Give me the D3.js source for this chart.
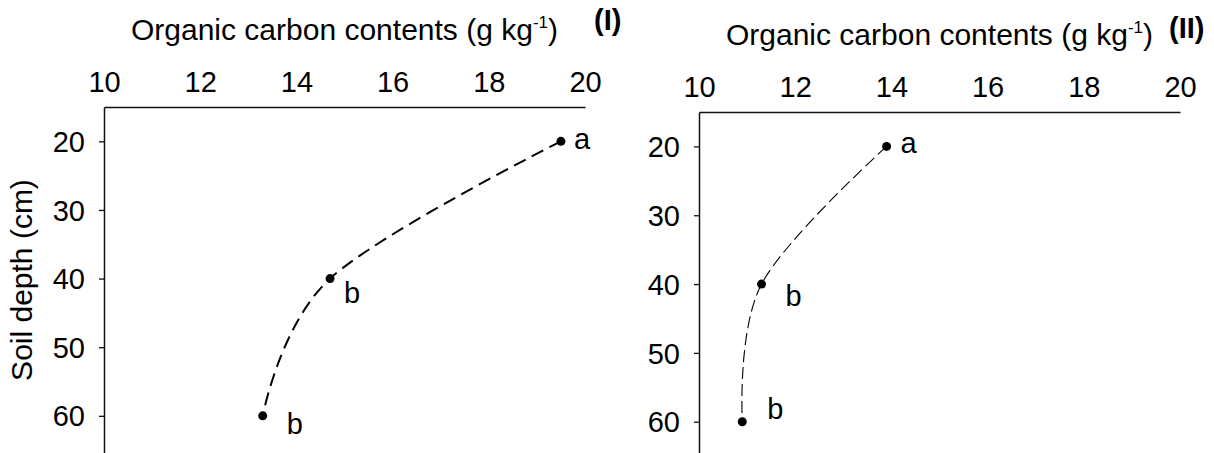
<!DOCTYPE html>
<meta charset="utf-8">
<script src="https://d3js.org/d3.v7.min.js"></script>
<style>
  body { margin: 0; background: #fff; }
  text { font-family: "Liberation Sans", Arial, sans-serif; fill: #000; }
</style>
<div id="chart"></div>
<script>

// soil depth (cm) of the three sampled layers
var depth = [20, 40, 60];
// organic carbon contents (g kg-1), panel I and panel II
var carbonI = [19.5, 14.7, 13.3];
var carbonII = [13.9, 11.3, 10.9];
// letters of significance next to each point
var lettersI = ["a", "b", "b"];
var lettersII = ["a", "b", "b"];
// tick values
var xTicks = [10, 12, 14, 16, 18, 20];
var yTicks = [20, 30, 40, 50, 60];

var width = 1214, height = 453;

var svg = d3.select("#chart")
  .append("svg")
    .attr("width", width)
    .attr("height", height);

// one object per panel, only layout and style here
var panels = [
  { name: "(I)", values: carbonI, letters: lettersI,
    x0: 104, x1: 585, y0: 107, y1: 457,
    titleY: 40, tagX: 594, tagY: 30,
    stroke: 2, dash: "13,7",
    offsets: [[13, 8], [14, 24], [24, 18]] },
  { name: "(II)", values: carbonII, letters: lettersII,
    x0: 699, x1: 1180, y0: 112, y1: 463,
    titleY: 45, tagX: 1169, tagY: 38,
    stroke: 1.1, dash: "12,5",
    offsets: [[14, 7], [24, 22], [25, -3]] }
];

panels.forEach(function(p) {

  var g = svg.append("g");

  var x = d3.scaleLinear()
    .domain([10, 20])
    .range([p.x0, p.x1]);

  var y = d3.scaleLinear()
    .domain([15, 66])
    .range([p.y0, p.y1]);

  // top axis, no tick marks
  var xAxis = g.append("g")
    .attr("transform", "translate(0," + p.y0 + ")")
    .call(d3.axisTop(x).tickValues(xTicks).tickSize(0).tickPadding(15));

  // left axis, ticks pointing out
  var yAxis = g.append("g")
    .attr("transform", "translate(" + p.x0 + ",0)")
    .call(d3.axisLeft(y).tickValues(yTicks).tickSizeInner(5).tickSizeOuter(0).tickPadding(14));

  [xAxis, yAxis].forEach(function(a) {
    a.select(".domain").attr("stroke", "#111").attr("stroke-width", 1.5);
    a.selectAll(".tick line").attr("stroke", "#111").attr("stroke-width", 1.3);
    a.selectAll(".tick text")
      .style("font-family", "'Liberation Sans', Arial, sans-serif")
      .style("font-size", "29px")
      .attr("fill", "#000");
  });
  xAxis.selectAll(".tick text").attr("dy", "0em");
  yAxis.selectAll(".tick text").attr("dy", "0.35em");

  var points = depth.map(function(d, i) {
    return { depth: d, value: p.values[i], letter: p.letters[i], off: p.offsets[i] };
  });

  // smoothed dashed line through the points
  g.append("path")
    .datum(points)
    .attr("d", d3.line()
      .x(function(d) { return x(d.value) })
      .y(function(d) { return y(d.depth) })
      .curve(d3.curveCardinal.tension(0))
    )
    .attr("fill", "none")
    .attr("stroke", "#000")
    .attr("stroke-width", p.stroke)
    .attr("stroke-dasharray", p.dash);

  g.selectAll("circle")
    .data(points)
    .enter()
    .append("circle")
      .attr("cx", function(d) { return x(d.value) })
      .attr("cy", function(d) { return y(d.depth) })
      .attr("r", 4.5)
      .attr("fill", "#000");

  g.selectAll(".letter")
    .data(points)
    .enter()
    .append("text")
      .attr("class", "letter")
      .attr("x", function(d) { return x(d.value) + d.off[0] })
      .attr("y", function(d) { return y(d.depth) + d.off[1] })
      .style("font-size", "29px")
      .text(function(d) { return d.letter });

  // axis title with superscript
  var title = g.append("text")
    .attr("x", (p.x0 + p.x1) / 2)
    .attr("y", p.titleY)
    .attr("text-anchor", "middle")
    .style("font-size", "30px");
  title.append("tspan").text("Organic carbon contents (g kg");
  title.append("tspan").attr("dy", -12).style("font-size", "17px").text("-1");
  title.append("tspan").attr("dy", 12).text(")");

  g.append("text")
    .attr("x", p.tagX)
    .attr("y", p.tagY)
    .style("font-size", "29px")
    .style("font-weight", "bold")
    .text(p.name);
});

svg.append("text")
  .attr("transform", "translate(32,280) rotate(-90)")
  .attr("text-anchor", "middle")
  .style("font-size", "30px")
  .text("Soil depth (cm)");

</script>
